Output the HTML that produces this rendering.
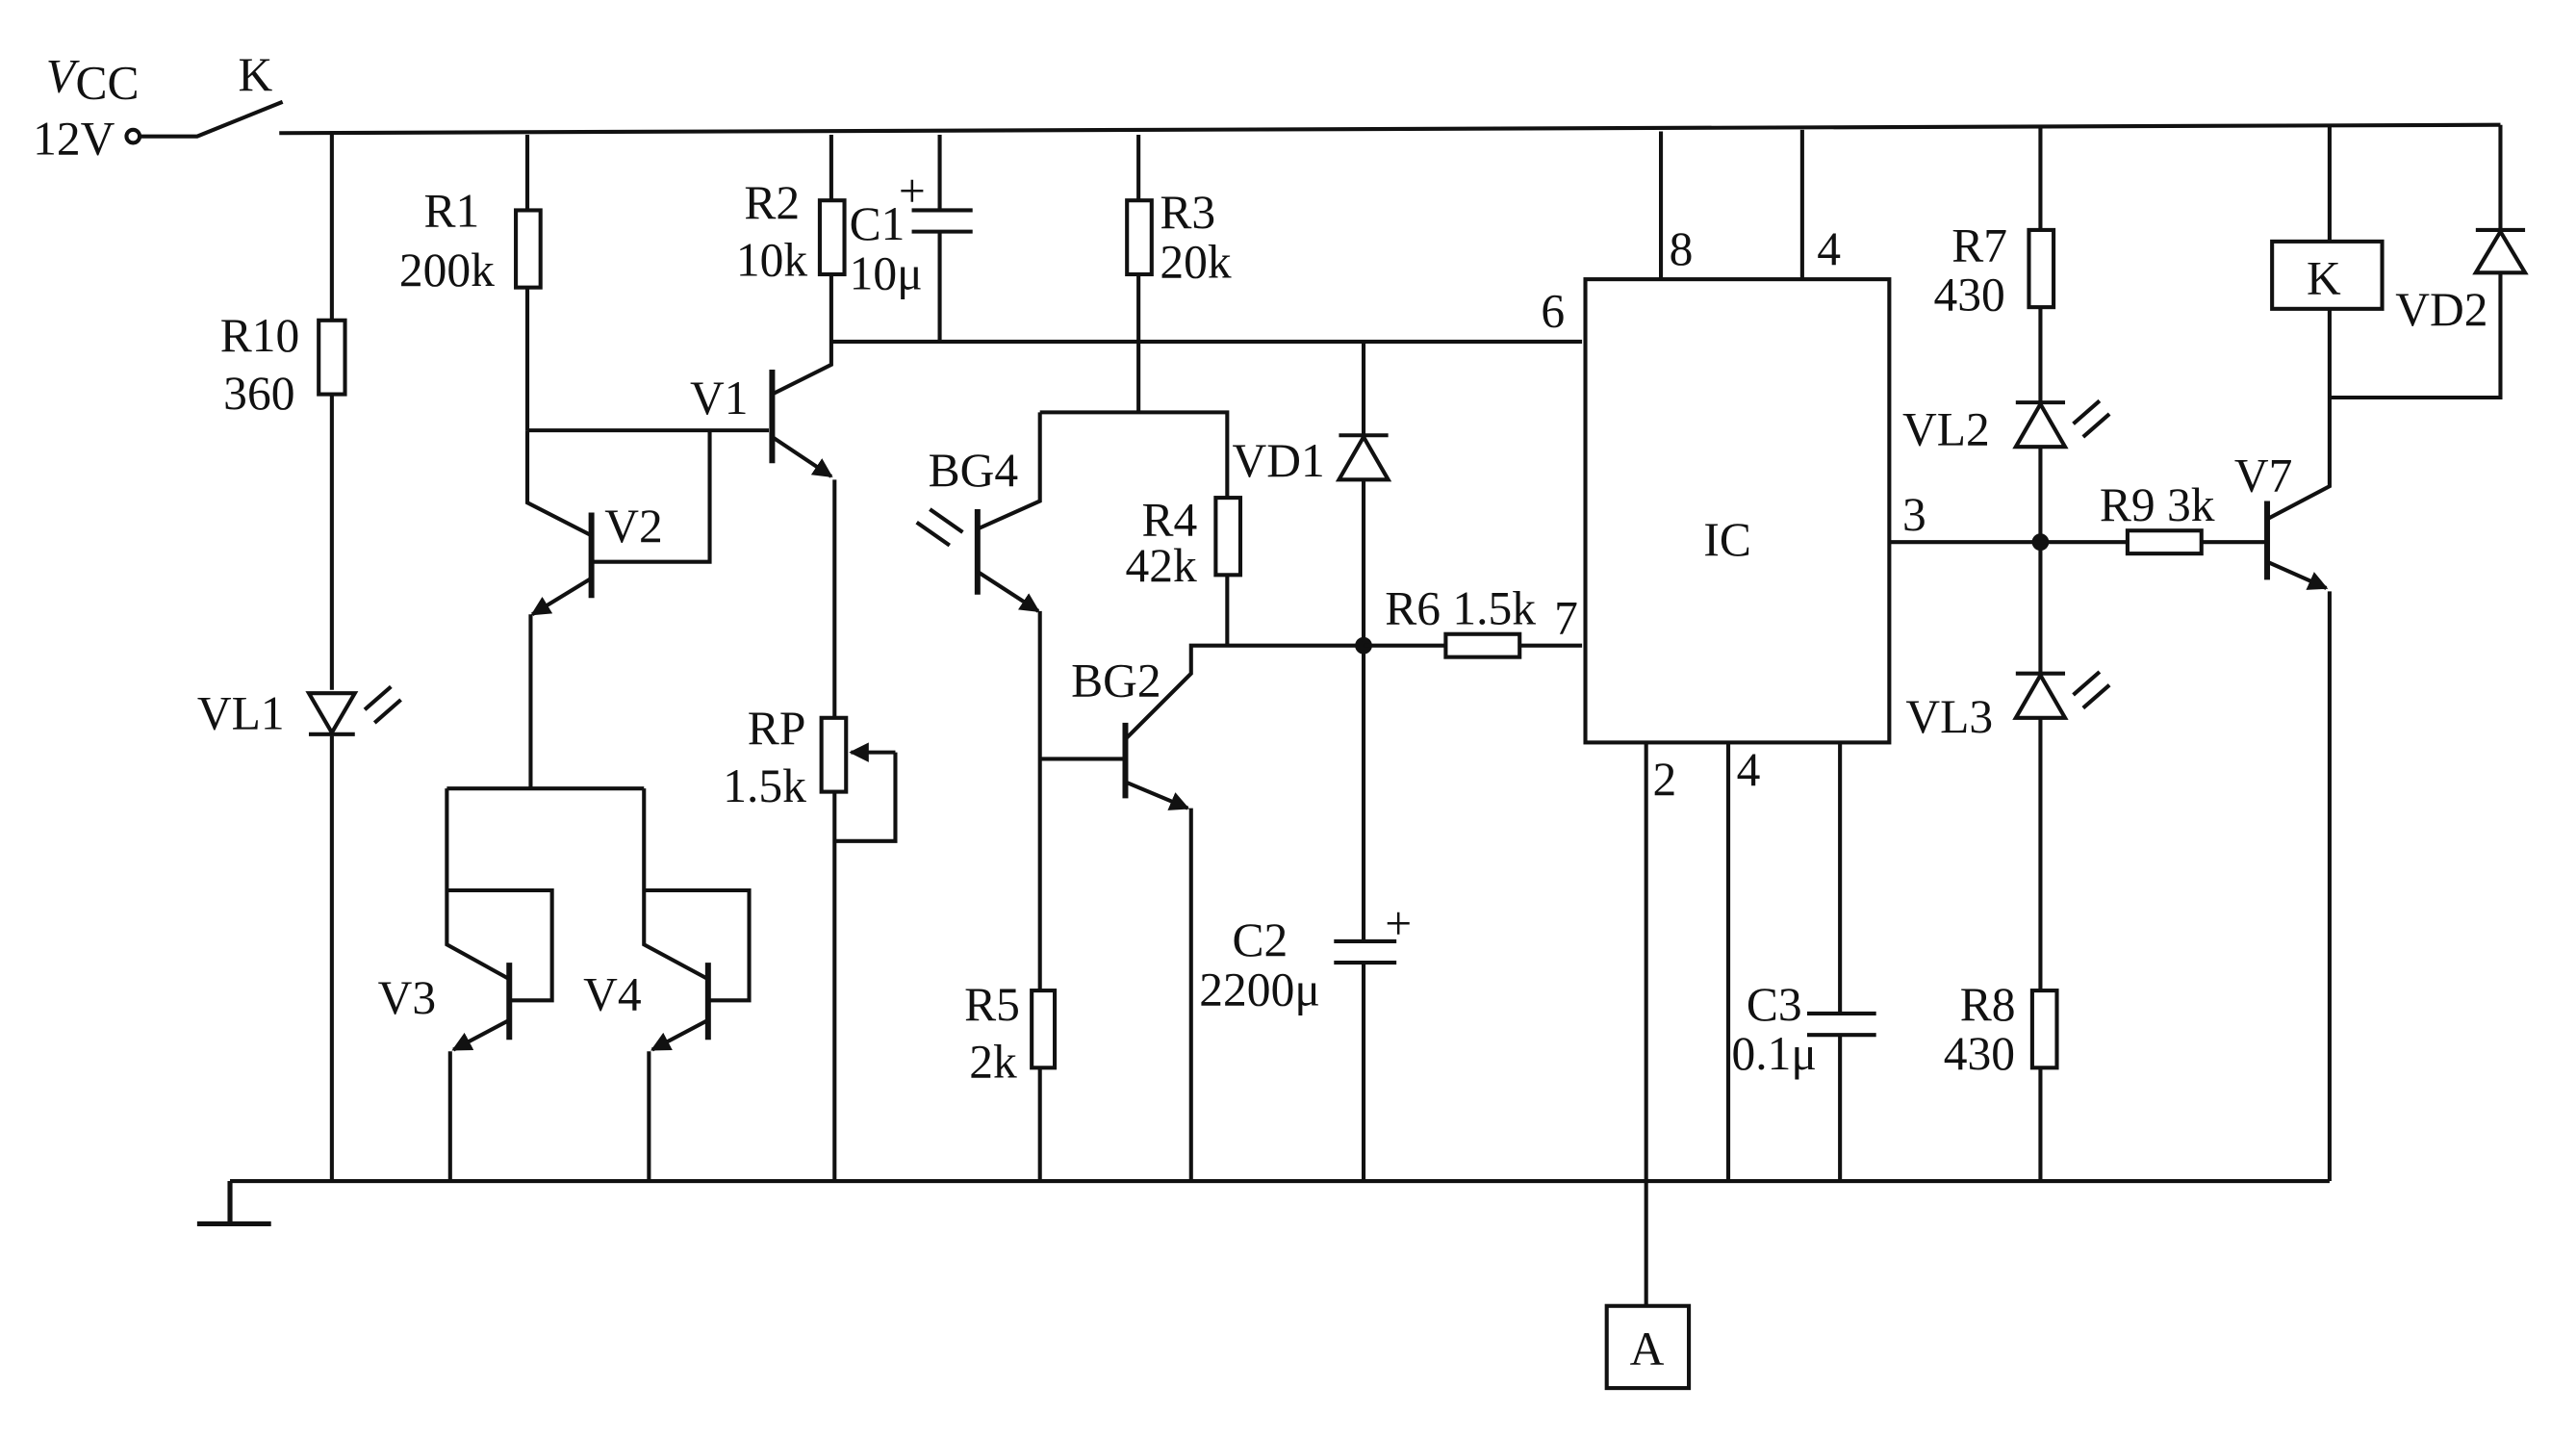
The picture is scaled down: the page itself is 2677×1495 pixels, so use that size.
<!DOCTYPE html>
<html><head><meta charset="utf-8"><style>
html,body{margin:0;padding:0;background:#fff;width:2677px;height:1495px;overflow:hidden}
svg{display:block}
text{font-family:"Liberation Serif",serif;font-size:29px;fill:#111}
</style></head><body>
<svg width="2677" height="1495" viewBox="0 0 1568 876" preserveAspectRatio="none" xmlns="http://www.w3.org/2000/svg">
<defs>
<marker id="ar" viewBox="0 0 10 10" refX="9" refY="5" markerWidth="5" markerHeight="5" orient="auto"><path d="M0,0L10,5L0,10z" fill="#111"/></marker>
</defs>
<g stroke="#111" stroke-width="2.4" fill="none">
<path d="M170,81 L1522,76"/>
<circle cx="81" cy="83" r="4"/>
<path d="M85,83 H120 L172,62"/>
<path d="M140,719 H1418"/>
<path d="M140,719 V744 M120,745 H165" stroke-width="3"/>
<path d="M202,82 V195 M202,240 V420 M202,448 V719"/>
<rect x="194" y="195" width="16" height="45" fill="#fff"/>
<path d="M188,422 H216 L202,446 Z M188,447 H216"/>
<path d="M222,432 L238,418 M228,440 L244,426"/>
<path d="M321,82 V128 M321,175 V262"/>
<rect x="314" y="128" width="15" height="47" fill="#fff"/>
<path d="M321,262 H468 M432,262 V342 H360"/>
<path d="M360,312 V364" stroke-width="3.5"/>
<path d="M360,326 L321,306 V262"/>
<path d="M360,352 L324,374" marker-end="url(#ar)"/>
<path d="M323,374 V480"/>
<!-- V3/V4 -->
<path d="M272,480 H392 M272,480 V575 L310,596 M392,480 V575 L431,596"/>
<path d="M272,542 H336 V609 H310 M392,542 H456 V609 H431"/>
<path d="M310,586 V633 M431,586 V633" stroke-width="3.5"/>
<path d="M310,621 L276,639" marker-end="url(#ar)"/>
<path d="M431,621 L397,639" marker-end="url(#ar)"/>
<path d="M274,640 V719 M395,640 V719"/>
<path d="M470,225 V282" stroke-width="3.5"/>
<path d="M470,240 L506,222 V82"/>
<path d="M470,266 L506,290" marker-end="url(#ar)"/>
<path d="M508,292 V437 M508,482 V719"/>
<rect x="500" y="437" width="15" height="45" fill="#fff"/>
<path d="M545,458 H518" marker-end="url(#ar)"/>
<path d="M545,458 V512 H508"/>
<rect x="499" y="122" width="15" height="45" fill="#fff"/>
<path d="M572,82 V128 M555,128 H592 M555,141 H592 M572,141 V208"/>
<path d="M506,208 H963"/>
<path d="M693,82 V122 M693,167 V251"/>
<rect x="686" y="122" width="15" height="45" fill="#fff"/>
<path d="M633,251 H747 V303 M747,350 V393"/>
<rect x="740" y="303" width="15" height="47" fill="#fff"/>
<path d="M595,310 V362" stroke-width="3.5"/>
<path d="M595,322 L633,305 V251"/>
<path d="M595,348 L632,372" marker-end="url(#ar)"/>
<path d="M633,372 V603 M633,650 V719"/>
<rect x="628" y="603" width="14" height="47" fill="#fff"/>
<path d="M558,318 L578,332 M566,310 L586,324"/>
<path d="M633,462 H685"/>
<path d="M685,440 V486" stroke-width="3.5"/>
<path d="M685,450 L725,410 V393 H830"/>
<path d="M685,476 L723,492" marker-end="url(#ar)"/>
<path d="M725,492 V719"/>
<path d="M830,208 V573 M830,586 V719"/>
<path d="M815,265 H845 M815,292 H845 L830,266 Z" fill="#fff"/>
<path d="M812,573 H850 M812,586 H850"/>
<circle cx="830" cy="393" r="4" fill="#111"/>
<path d="M830,393 H963"/>
<rect x="880" y="386" width="45" height="14" fill="#fff"/>
<rect x="965" y="170" width="185" height="282"/>
<path d="M1011,80 V170 M1097,79 V170"/>
<path d="M1002,452 V795 M1052,452 V719 M1120,452 V617 M1120,630 V719"/>
<path d="M1100,617 H1142 M1100,630 H1142"/>
<rect x="978" y="795" width="50" height="50"/>
<path d="M1242,78 V140 M1242,187 V603 M1242,650 V719"/>
<rect x="1235" y="140" width="15" height="47" fill="#fff"/>
<rect x="1237" y="603" width="15" height="47" fill="#fff"/>
<path d="M1227,245 H1257 M1227,272 H1257 L1242,246 Z" fill="#fff"/>
<path d="M1227,410 H1257 M1227,437 H1257 L1242,411 Z" fill="#fff"/>
<path d="M1262,258 L1278,244 M1268,266 L1284,252 M1262,423 L1278,409 M1268,431 L1284,417"/>
<circle cx="1242" cy="330" r="4" fill="#111"/>
<path d="M1150,330 H1380"/>
<rect x="1295" y="323" width="45" height="14" fill="#fff"/>
<path d="M1380,305 V353" stroke-width="3.5"/>
<path d="M1380,316 L1418,296 V188 M1418,147 V76"/>
<path d="M1380,342 L1416,358" marker-end="url(#ar)"/>
<path d="M1418,360 V719"/>
<rect x="1383" y="147" width="67" height="41"/>
<path d="M1418,242 H1522 V76"/>
<path d="M1507,140 H1537 M1507,166 H1537 L1522,141 Z" fill="#fff"/>
</g>
<g>
<text x="28" y="56" font-style="italic">V</text><text x="46" y="60" font-size="22">CC</text>
<text x="20" y="94">12V</text>
<text x="145" y="55">K</text>
<text x="134" y="214">R10</text>
<text x="136" y="249">360</text>
<text x="120" y="444">VL1</text>
<text x="258" y="138">R1</text>
<text x="243" y="174">200k</text>
<text x="420" y="252">V1</text>
<text x="368" y="330">V2</text>
<text x="230" y="617">V3</text>
<text x="355" y="615">V4</text>
<text x="453" y="133">R2</text>
<text x="448" y="168">10k</text>
<text x="517" y="146">C1</text>
<text x="517" y="176">10μ</text>
<text x="547" y="126" font-size="24">+</text>
<text x="455" y="453">RP</text>
<text x="440" y="488">1.5k</text>
<text x="706" y="139">R3</text>
<text x="706" y="169">20k</text>
<text x="565" y="296">BG4</text>
<text x="695" y="326">R4</text>
<text x="685" y="354">42k</text>
<text x="750" y="290">VD1</text>
<text x="652" y="424">BG2</text>
<text x="587" y="621">R5</text>
<text x="590" y="656">2k</text>
<text x="750" y="582">C2</text>
<text x="730" y="612">2200μ</text>
<text x="843" y="380">R6 1.5k</text>
<text x="946" y="386">7</text>
<text x="843" y="572" font-size="24">+</text>
<text x="938" y="199">6</text>
<text x="1016" y="161">8</text>
<text x="1106" y="161">4</text>
<text x="1037" y="338">IC</text>
<text x="1158" y="323">3</text>
<text x="1006" y="484">2</text>
<text x="1057" y="478">4</text>
<text x="1063" y="621">C3</text>
<text x="1054" y="651">0.1μ</text>
<text x="992" y="831">A</text>
<text x="1188" y="159">R7</text>
<text x="1177" y="189">430</text>
<text x="1158" y="271">VL2</text>
<text x="1160" y="446">VL3</text>
<text x="1193" y="621">R8</text>
<text x="1183" y="651">430</text>
<text x="1278" y="317">R9 3k</text>
<text x="1360" y="299">V7</text>
<text x="1404" y="179">K</text>
<text x="1458" y="198">VD2</text>
</g>
</svg>
</body></html>
